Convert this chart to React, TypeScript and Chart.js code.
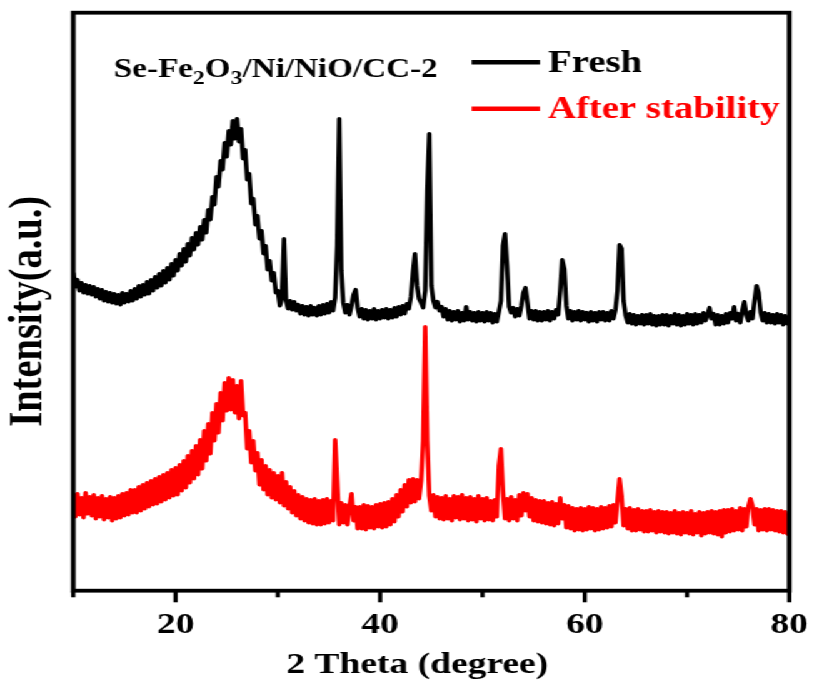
import React, { useEffect, useRef } from 'react';
import { Chart, registerables } from 'chart.js';

Chart.register(...registerables);

// ---- data (2θ sampled every 0.2° from 10° to 80°) ----
const ANGLE_START = 10;
const ANGLE_STEP = 0.2;
const X_MIN = 10;
const X_MAX = 80;
const Y_MIN = 0;
const Y_MAX = 578;
const X_LABELED_TICKS = [20, 40, 60, 80];
const X_MINOR_TICKS = [10, 30, 50, 70];

const FRESH = [
  318, 304, 311, 300, 308, 298, 306, 297, 305, 296,
  304, 294, 302, 292, 301, 290, 299, 289, 298, 288,
  297, 287, 296, 286, 298, 288, 297, 289, 300, 290,
  302, 292, 305, 294, 306, 296, 309, 297, 311, 300,
  314, 303, 317, 305, 320, 308, 323, 311, 327, 315,
  331, 320, 337, 325, 342, 329, 347, 335, 353, 341,
  358, 346, 364, 351, 371, 358, 381, 371, 394, 386,
  414, 404, 430, 421, 448, 434, 460, 446, 470, 452,
  472, 449, 462, 432, 441, 411, 417, 387, 392, 366,
  375, 352, 360, 337, 345, 321, 330, 310, 318, 298,
  300, 285, 293, 352, 290, 282, 290, 281, 289, 280,
  286, 277, 285, 276, 284, 275, 285, 276, 283, 275,
  285, 276, 286, 277, 287, 278, 289, 280, 293, 345,
  472, 320, 288, 278, 286, 276, 285, 296, 301, 283,
  274, 282, 272, 281, 271, 280, 272, 282, 271, 280,
  272, 281, 273, 282, 272, 281, 273, 283, 274, 284,
  276, 285, 277, 287, 282, 294, 318, 337, 305, 292,
  288, 283, 300, 400, 457, 305, 290, 283, 289, 280,
  284, 274, 282, 271, 280, 270, 279, 271, 280, 269,
  278, 270, 284, 271, 279, 270, 278, 269, 279, 270,
  278, 269, 279, 270, 278, 268, 277, 269, 279, 290,
  345, 357, 325, 284, 278, 283, 274, 282, 275, 285,
  298, 303, 288, 272, 280, 271, 280, 270, 279, 270,
  279, 271, 280, 270, 279, 272, 281, 276, 300, 331,
  322, 285, 272, 280, 270, 279, 271, 280, 270, 279,
  271, 278, 269, 279, 270, 278, 269, 279, 271, 279,
  270, 278, 270, 280, 272, 281, 300, 346, 342, 290,
  275, 268, 277, 267, 276, 266, 275, 267, 276, 266,
  276, 267, 277, 266, 275, 265, 275, 266, 276, 266,
  276, 265, 275, 267, 277, 266, 276, 265, 275, 266,
  277, 267, 276, 266, 277, 267, 276, 268, 278, 270,
  276, 283, 272, 277, 266, 276, 266, 275, 267, 277,
  268, 278, 272, 284, 270, 277, 268, 280, 289, 276,
  270, 279, 272, 290, 305, 298, 278, 270, 278, 268,
  277, 268, 276, 267, 277, 268, 276, 266, 275, 267,
  272,
];

const AFTER_STABILITY = [
  95, 74, 97, 76, 93, 73, 98, 77, 94, 75,
  96, 72, 93, 74, 95, 71, 92, 73, 94, 70,
  93, 72, 95, 73, 97, 75, 98, 76, 101, 78,
  101, 78, 104, 80, 106, 82, 108, 84, 110, 86,
  112, 87, 114, 89, 116, 91, 118, 93, 121, 95,
  123, 96, 126, 100, 130, 103, 135, 108, 140, 112,
  145, 116, 151, 122, 160, 130, 167, 137, 178, 150,
  187, 158, 198, 170, 208, 180, 213, 181, 211, 178,
  205, 172, 210, 175, 178, 142, 160, 128, 150, 120,
  138, 106, 131, 101, 125, 96, 121, 93, 118, 91,
  115, 88, 118, 85, 109, 82, 104, 78, 100, 75,
  96, 72, 94, 70, 92, 68, 91, 67, 92, 66,
  90, 66, 91, 67, 92, 68, 90, 70, 151, 110,
  66, 88, 68, 86, 66, 84, 97, 70, 84, 62,
  84, 62, 86, 61, 85, 63, 84, 62, 86, 64,
  87, 63, 88, 64, 89, 66, 92, 69, 96, 74,
  101, 79, 106, 84, 111, 88, 112, 89, 111, 92,
  110, 150, 264, 150, 95, 80, 96, 74, 94, 72,
  93, 71, 95, 72, 92, 70, 95, 73, 94, 71,
  96, 72, 93, 70, 94, 71, 92, 69, 95, 72,
  92, 70, 93, 71, 90, 70, 91, 74, 125, 142,
  100, 72, 92, 70, 94, 72, 91, 70, 96, 75,
  98, 80, 97, 74, 93, 70, 91, 69, 90, 68,
  90, 67, 88, 66, 89, 65, 87, 67, 93, 72,
  86, 63, 85, 62, 83, 60, 82, 61, 83, 60,
  82, 61, 84, 62, 83, 60, 82, 61, 84, 62,
  83, 63, 85, 64, 86, 68, 90, 112, 95, 65,
  82, 62, 83, 60, 81, 60, 82, 61, 80, 59,
  80, 59, 81, 60, 79, 58, 80, 59, 79, 58,
  79, 57, 78, 58, 80, 57, 78, 56, 79, 58,
  78, 57, 80, 56, 77, 58, 79, 55, 78, 57,
  79, 58, 80, 57, 79, 56, 80, 54, 81, 58,
  81, 59, 82, 60, 80, 61, 83, 60, 82, 64,
  84, 92, 85, 66, 82, 60, 81, 61, 82, 60,
  82, 61, 81, 60, 80, 59, 80, 58, 79, 57,
  56,
];

const SERIES_LABELS = ['Fresh', 'After stability'];
const SERIES_COLORS = ['#000000', '#ff0000'];
const X_TITLE = '2 Theta (degree)';
const Y_TITLE = 'Intensity(a.u.)';
const SAMPLE_NAME = [
  { text: 'Se-Fe', sub: false },
  { text: '2', sub: true },
  { text: 'O', sub: false },
  { text: '3', sub: true },
  { text: '/Ni/NiO/CC-2', sub: false },
];

const FAMILY = "'Liberation Serif', 'Times New Roman', Times, serif";
const CANVAS_W = 651;
const CANVAS_H = 686;
const STRETCH = 814 / CANVAS_W;

const overlayPlugin = {
  id: 'overlay',
  afterDraw(chart: any) {
    const { ctx, chartArea: a, scales } = chart;
    const xs = scales.x;
    ctx.save();
    ctx.strokeStyle = '#000';
    ctx.lineCap = 'butt';

    // frame
    ctx.lineWidth = 3.8;
    ctx.strokeRect(a.left, a.top, a.right - a.left, a.bottom - a.top);

    // tick marks
    ctx.lineWidth = 3.4;
    X_LABELED_TICKS.forEach((v) => {
      const px = xs.getPixelForValue(v);
      ctx.beginPath();
      ctx.moveTo(px, a.bottom);
      ctx.lineTo(px, a.bottom + 11.6);
      ctx.stroke();
    });
    X_MINOR_TICKS.forEach((v) => {
      const px = xs.getPixelForValue(v);
      ctx.beginPath();
      ctx.moveTo(px, a.bottom);
      ctx.lineTo(px, a.bottom + 6.6);
      ctx.stroke();
    });

    // legend
    ctx.textAlign = 'left';
    ctx.textBaseline = 'alphabetic';
    chart.data.datasets.forEach((ds: any, i: number) => {
      const base = a.top + 59 + i * 46.6;
      ctx.strokeStyle = ds.borderColor;
      ctx.lineWidth = 4.5;
      ctx.beginPath();
      ctx.moveTo(a.left + 318.6, base - 9.5);
      ctx.lineTo(a.left + 373.3, base - 9.5);
      ctx.stroke();
      ctx.fillStyle = ds.borderColor;
      ctx.font = `bold 31px ${FAMILY}`;
      ctx.fillText(ds.label, a.left + 379.7, base);
    });

    // sample name
    ctx.fillStyle = '#000';
    let x = a.left + 32.5;
    const base = a.top + 64;
    SAMPLE_NAME.forEach((p) => {
      ctx.font = p.sub ? `bold 19px ${FAMILY}` : `bold 26.5px ${FAMILY}`;
      ctx.fillText(p.text, x, p.sub ? base + 7 : base);
      x += ctx.measureText(p.text).width;
    });
    ctx.restore();
  },
};

export default function App() {
  const ref = useRef<HTMLCanvasElement>(null);
  useEffect(() => {
    const angles = FRESH.map((_, i) => +(ANGLE_START + i * ANGLE_STEP).toFixed(1));
    const series = [FRESH, AFTER_STABILITY];
    const chart = new Chart(ref.current as HTMLCanvasElement, {
      type: 'line',
      data: {
        datasets: series.map((vals, k) => ({
          label: SERIES_LABELS[k],
          data: vals.map((y, i) => ({ x: angles[i], y })),
          borderColor: SERIES_COLORS[k],
          backgroundColor: SERIES_COLORS[k],
          borderWidth: 3.6,
          borderJoinStyle: 'round',
          pointRadius: 0,
          tension: 0,
          fill: false,
        })),
      },
      options: {
        animation: false,
        responsive: true,
        maintainAspectRatio: false,
        layout: { padding: { top: 12.7, right: 19.7, left: 0, bottom: 0 } },
        plugins: { legend: { display: false }, tooltip: { enabled: false } },
        scales: {
          x: {
            type: 'linear',
            min: X_MIN,
            max: X_MAX,
            border: { display: false },
            grid: {
              display: true,
              drawOnChartArea: false,
              drawTicks: true,
              tickLength: 16.3,
              tickColor: 'rgba(0,0,0,0)',
              color: 'rgba(0,0,0,0)',
            },
            ticks: {
              stepSize: 10,
              autoSkip: false,
              maxRotation: 0,
              padding: 0,
              color: '#000',
              font: { family: FAMILY, size: 30, weight: 'bold' },
              callback: (v: any) => (X_LABELED_TICKS.includes(Number(v)) ? String(v) : ''),
            },
            title: {
              display: true,
              text: X_TITLE + '\u00a0\u00a0\u00a0',
              color: '#000',
              font: { family: FAMILY, size: 30, weight: 'bold' },
              padding: { top: 4, bottom: 3 },
            },
            afterFit: (s: any) => {
              s.height = 95.3;
            },
          },
          y: {
            min: Y_MIN,
            max: Y_MAX,
            border: { display: false },
            grid: { display: false },
            ticks: { display: false },
            title: {
              display: true,
              text: Y_TITLE + '\u00a0\u00a0',
              color: '#000',
              font: { family: FAMILY, size: 38.5, weight: 'bold' },
              padding: { top: 0, bottom: 0 },
            },
            afterFit: (s: any) => {
              s.width = 58.6;
            },
          },
        },
      } as any,
      plugins: [overlayPlugin],
    });
    return () => chart.destroy();
  }, []);

  return (
    <div
      style={{
        position: 'fixed',
        left: 0,
        top: 0,
        width: CANVAS_W,
        height: CANVAS_H,
        transform: `scaleX(${STRETCH})`,
        transformOrigin: '0 0',
        background: '#fff',
      }}
    >
      <canvas ref={ref} />
    </div>
  );
}
